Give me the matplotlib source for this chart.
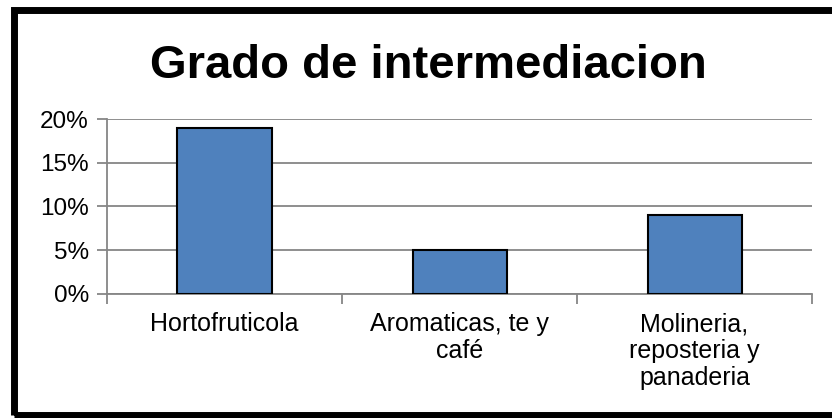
import numpy as np
import matplotlib
matplotlib.use("Agg")
import matplotlib.pyplot as plt
from matplotlib.patches import Rectangle
from matplotlib.ticker import FuncFormatter

categories = ["Hortofruticola", "Aromaticas, te y\ncafé", "Molineria,\nreposteria y\npanaderia"]
values = [0.19, 0.05, 0.09]
yticks = [0, 0.05, 0.10, 0.15, 0.20]
title = "Grado de intermediacion"

plt.rcParams["font.family"] = ["Liberation Sans", "DejaVu Sans"]

fig = plt.figure(figsize=(8.32, 4.18), dpi=100)
ax = fig.add_axes([0.1286, 0.2967, 0.8474, 0.4186])

x = np.arange(len(categories))
ax.bar(x, values, width=0.4, color="#4F81BD", edgecolor="black", linewidth=1.5, zorder=3)

ax.set_xlim(-0.5, len(categories) - 0.5)
ax.set_ylim(0, 0.20)
ax.set_yticks(yticks)
ax.yaxis.set_major_formatter(FuncFormatter(lambda v, p: f"{v * 100:.0f}%"))
ax.grid(True, axis="y", color="#868686", linewidth=1.3, zorder=0)

ax.set_xticks(x)
ax.set_xticklabels(categories, fontsize=18, linespacing=1.15)
ax.set_xticks(np.arange(len(categories) + 1) - 0.5, minor=True)
ax.tick_params(axis="x", which="major", length=0, pad=13)
ax.tick_params(axis="x", which="minor", length=7, width=1.3, color="#868686")
ax.tick_params(axis="y", length=7, width=1.3, color="#868686", labelsize=17.5, pad=6)

for s in ["top", "right"]:
    ax.spines[s].set_visible(False)
for s in ["left", "bottom"]:
    ax.spines[s].set_color("#868686")
    ax.spines[s].set_linewidth(1.3)

fig.text(0.515, 0.842, title, ha="center", va="center", fontsize=34, fontweight="bold")

# thick black frame, right edge runs off the picture
fig.patches.append(Rectangle((13.5 / 832, 3.5 / 418), 840 / 832, 405 / 418,
                             transform=fig.transFigure, fill=False,
                             edgecolor="black", linewidth=5))

fig.savefig("out.png", dpi=100)
